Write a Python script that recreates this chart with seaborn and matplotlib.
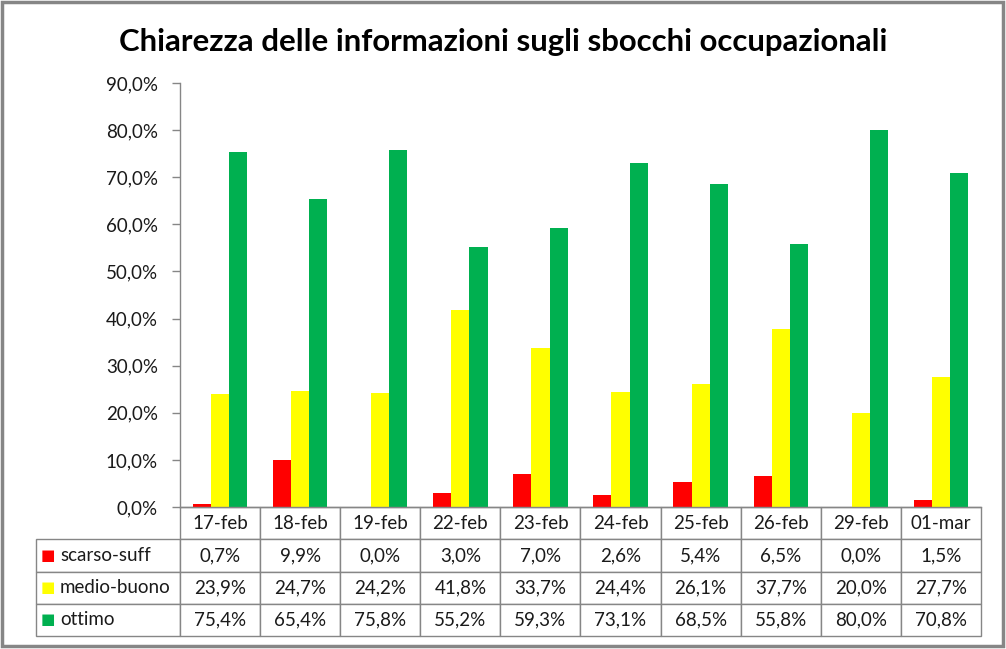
import matplotlib
matplotlib.use('Agg')
import matplotlib.pyplot as plt
import seaborn as sns
import pandas as pd
from matplotlib.table import Table
from matplotlib.patches import Rectangle


dates = ['17-feb', '18-feb', '19-feb', '22-feb', '23-feb',
         '24-feb', '25-feb', '26-feb', '29-feb', '01-mar']
scarso_suff = [0.7, 9.9, 0.0, 3.0, 7.0, 2.6, 5.4, 6.5, 0.0, 1.5]
medio_buono = [23.9, 24.7, 24.2, 41.8, 33.7, 24.4, 26.1, 37.7, 20.0, 27.7]
ottimo = [75.4, 65.4, 75.8, 55.2, 59.3, 73.1, 68.5, 55.8, 80.0, 70.8]
series_names = ['scarso-suff', 'medio-buono', 'ottimo']
colors = ['#FF0000', '#FFFF00', '#00B050']
title = 'Chiarezza delle informazioni sugli sbocchi occupazionali'


def pct(v):
  return ('%.1f%%' % v).replace('.', ',')


#################################################
# Long dataframe for seaborn
#################################################
series = [scarso_suff, medio_buono, ottimo]
rows = []
for name, vals in zip(series_names, series):
  for d, v in zip(dates, vals):
    rows.append({'data': d, 'serie': name, 'valore': v})
df = pd.DataFrame(rows)

sns.set_style('white')
plt.rcParams['font.family'] = ['Lato', 'DejaVu Sans']
edge = '#868686'
txt = '#1a1a1a'

fig = plt.figure(figsize=(10.06, 6.49), dpi=100)
ax = fig.add_axes([180 / 1006, 1 - 507 / 649, 801 / 1006, 424 / 649])

sns.barplot(
  data=df, x='data', y='valore', hue='serie',
  order=dates, hue_order=series_names,
  palette=colors, width=0.68, gap=0, saturation=1,
  linewidth=0, legend=False, ax=ax
)

ax.set_xlim(-0.5, len(dates) - 0.5)
ax.set_ylim(0, 90)
ax.set_yticks(range(0, 91, 10))
ax.set_yticklabels([pct(t) for t in range(0, 91, 10)], fontsize=13.5, color=txt)
ax.set_xticks([])
ax.set_xlabel('')
ax.set_ylabel('')
ax.tick_params(axis='y', direction='out', length=6, width=1, color=edge, pad=10, left=True)
for s in ['top', 'right']:
  ax.spines[s].set_visible(False)
for s in ['left', 'bottom']:
  ax.spines[s].set_color(edge)
  ax.spines[s].set_linewidth(1)


#################################################
# Data table below the plot (sizes in axes units)
#################################################
row_h = 129 / 424 / 4
col_w = 1 / len(dates)
label_w = 144 / 801
tab = Table(ax, bbox=[0, -4 * row_h, 1, 4 * row_h])
tab.auto_set_font_size(False)

for j, d in enumerate(dates):
  tab.add_cell(0, j, width=col_w, height=row_h, text=d, loc='center', edgecolor=edge)
for i, (name, vals) in enumerate(zip(series_names, series)):
  c = tab.add_cell(i + 1, -1, width=label_w, height=row_h, text=name, loc='left', edgecolor=edge)
  c.PAD = 24 / 144
  for j, v in enumerate(vals):
    tab.add_cell(i + 1, j, width=col_w, height=row_h, text=pct(v), loc='center', edgecolor=edge)
tab.set_fontsize(13.5)
for cell in tab.get_celld().values():
  cell.set_linewidth(1)
  cell.get_text().set_color(txt)
ax.add_table(tab)

# coloured legend keys in the row labels
for i, col in enumerate(colors):
  ax.text(-132 / 801, -(i + 1.5) * row_h, '\u25A0', color=col, fontsize=11,
          ha='center', va='center', transform=ax.transAxes,
          family='DejaVu Sans', clip_on=False)

fig.text(0.5, 1 - 42 / 649, title, ha='center', va='center',
         fontsize=22.4, fontweight='bold', color='black')

fig.patches.append(Rectangle((1.5 / 1006, 3 / 649), 1001 / 1006, 644 / 649,
                             transform=fig.transFigure, fill=False,
                             edgecolor=edge, linewidth=2.5))

fig.savefig('out.png', dpi=100)
